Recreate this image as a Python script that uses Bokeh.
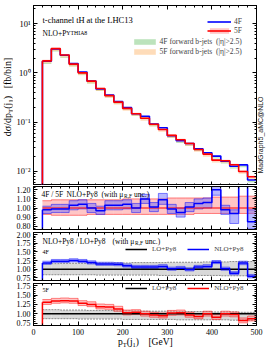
import math
from bokeh.plotting import figure
from bokeh.models import (Range1d, LinearAxis, LogAxis, SingleIntervalTicker, LogTicker,
                          CustomJSTickFormatter, Label, Legend, LegendItem, PrintfTickFormatter, Div)
from bokeh.layouts import column, row
from bokeh.embed import file_html
from bokeh.resources import INLINE

SERIF = "Liberation Serif"
SANS = "Liberation Sans"

# ---------------- data ----------------
bin_edges = [20, 40, 60, 80, 100, 120, 140, 160, 180, 200, 220, 240, 260,
             280, 300, 320, 340, 360, 380, 400, 420, 440, 460, 480, 500]

xs_4f = [1.72, 3.05, 2.28, 1.55, 1.04, 0.68, 0.47, 0.355, 0.262, 0.197, 0.148, 0.132,
         0.092, 0.077, 0.053, 0.042, 0.037, 0.029, 0.024, 0.0205, 0.0162, 0.0128, 0.0136, 0.0067]
xs_5f = [1.75, 3.10, 2.30, 1.50, 1.00, 0.68, 0.48, 0.345, 0.255, 0.190, 0.148, 0.120,
         0.091, 0.071, 0.054, 0.044, 0.037, 0.028, 0.0225, 0.0170, 0.0165, 0.0137, 0.0100, 0.0078]
xs_5f_lo = [1.66, 2.95, 2.19, 1.43, 0.95, 0.65, 0.46, 0.33, 0.243, 0.181, 0.141, 0.114,
            0.087, 0.068, 0.051, 0.042, 0.035, 0.0265, 0.0213, 0.0161, 0.0156, 0.0130, 0.0095, 0.0074]
xs_5f_hi = [1.84, 3.24, 2.40, 1.57, 1.05, 0.71, 0.50, 0.36, 0.266, 0.198, 0.155, 0.126,
            0.095, 0.074, 0.057, 0.046, 0.039, 0.0293, 0.0236, 0.0178, 0.0173, 0.0144, 0.0105, 0.0082]
fwd_4f_lo = [1.52, 2.70, 2.02, 1.36, 0.92, 0.61, 0.43, 0.32, 0.236, 0.178, 0.134, 0.118,
             0.083, 0.069, 0.048, 0.038, 0.033, 0.026, 0.0215, 0.0184, 0.0146, 0.0115, 0.0122, 0.0060]
fwd_4f_hi = [1.62, 2.88, 2.15, 1.45, 0.98, 0.65, 0.455, 0.34, 0.25, 0.189, 0.142, 0.126,
             0.088, 0.073, 0.051, 0.040, 0.035, 0.0276, 0.0228, 0.0195, 0.0154, 0.0122, 0.0129, 0.0064]
fwd_5f_lo = [1.56, 2.78, 2.05, 1.33, 0.89, 0.61, 0.43, 0.31, 0.229, 0.170, 0.133, 0.107,
             0.082, 0.064, 0.048, 0.039, 0.033, 0.025, 0.020, 0.0152, 0.0148, 0.0123, 0.0090, 0.0070]
fwd_5f_hi = [1.66, 2.95, 2.18, 1.42, 0.95, 0.65, 0.455, 0.328, 0.243, 0.181, 0.141, 0.114,
             0.087, 0.068, 0.051, 0.042, 0.035, 0.0265, 0.0213, 0.0161, 0.0156, 0.0130, 0.0095, 0.0074]

# ratio 4F/5F
r45 = [0.98, 0.99, 0.99, 1.03, 1.04, 1.00, 0.97, 1.03, 1.03, 1.04, 1.00, 1.10,
       1.01, 1.09, 0.99, 0.95, 1.01, 1.05, 1.06, 1.20, 0.98, 0.94, 1.36, 0.85]
r45_lo = [0.94, 0.95, 0.95, 0.98, 0.99, 0.95, 0.93, 0.98, 0.98, 0.99, 0.95, 1.05,
          0.96, 1.04, 0.94, 0.90, 0.96, 0.99, 1.00, 1.14, 0.93, 0.83, 1.30, 0.77]
r45_hi = [1.02, 1.04, 1.04, 1.08, 1.09, 1.05, 1.02, 1.08, 1.08, 1.09, 1.05, 1.15,
          1.06, 1.16, 1.04, 1.00, 1.06, 1.10, 1.11, 1.26, 1.03, 0.98, 1.42, 0.98]
r55 = [1.00] * 24
r55_lo = [0.93, 0.92, 0.92, 0.92, 0.92, 0.93, 0.93, 0.93, 0.93, 0.93, 0.93, 0.93,
          0.93, 0.93, 0.93, 0.93, 0.93, 0.94, 0.94, 0.94, 0.94, 0.94, 0.94, 0.94]
r55_hi = [1.08, 1.09, 1.09, 1.09, 1.09, 1.09, 1.09, 1.09, 1.09, 1.10, 1.10, 1.10,
          1.10, 1.10, 1.11, 1.11, 1.11, 1.11, 1.11, 1.12, 1.12, 1.12, 1.13, 1.13]

# 4F NLO/LO
k4 = [1.18, 1.23, 1.23, 1.25, 1.23, 1.19, 1.15, 1.15, 1.14, 1.10, 1.06, 1.06,
      1.06, 1.08, 1.01, 1.03, 0.99, 1.06, 1.08, 1.20, 1.01, 0.88, 1.18, 0.80]
k4_lo = [1.14, 1.19, 1.19, 1.21, 1.19, 1.15, 1.11, 1.11, 1.10, 1.06, 1.02, 1.02,
         1.02, 1.04, 0.97, 0.99, 0.95, 1.02, 1.04, 1.16, 0.97, 0.84, 1.13, 0.75]
k4_hi = [1.23, 1.28, 1.28, 1.30, 1.28, 1.24, 1.20, 1.20, 1.19, 1.15, 1.11, 1.11,
         1.11, 1.13, 1.06, 1.08, 1.04, 1.11, 1.13, 1.25, 1.06, 0.93, 1.23, 0.85]
lo4 = [1.00] * 24
lo4_lo = [0.84, 0.84, 0.84, 0.84, 0.84, 0.84, 0.83, 0.83, 0.83, 0.83, 0.83, 0.83,
          0.83, 0.82, 0.82, 0.82, 0.82, 0.82, 0.82, 0.82, 0.81, 0.81, 0.81, 0.81]
lo4_hi = [1.16, 1.16, 1.17, 1.17, 1.17, 1.17, 1.18, 1.18, 1.18, 1.18, 1.19, 1.19,
          1.19, 1.19, 1.20, 1.20, 1.20, 1.20, 1.21, 1.21, 1.21, 1.22, 1.22, 1.22]

# 5F NLO/LO
k5 = [1.31, 1.34, 1.35, 1.34, 1.28, 1.25, 1.19, 1.18, 1.13, 1.03, 1.04, 1.00,
      0.97, 0.95, 1.02, 1.03, 0.97, 0.93, 1.00, 0.91, 1.00, 0.98, 0.82, 0.87]
k5_lo = [1.25, 1.28, 1.29, 1.28, 1.22, 1.19, 1.13, 1.12, 1.07, 0.97, 0.98, 0.94,
         0.91, 0.89, 0.96, 0.97, 0.91, 0.87, 0.94, 0.85, 0.94, 0.92, 0.76, 0.81]
k5_hi = [1.38, 1.41, 1.42, 1.41, 1.35, 1.32, 1.26, 1.25, 1.20, 1.10, 1.11, 1.07,
         1.04, 1.02, 1.09, 1.10, 1.04, 1.00, 1.07, 0.98, 1.07, 1.05, 0.89, 0.94]
lo5 = [1.00] * 24
lo5_lo = [0.87, 0.87, 0.87, 0.87, 0.86, 0.86, 0.86, 0.86, 0.86, 0.85, 0.85, 0.85,
          0.85, 0.85, 0.85, 0.84, 0.84, 0.84, 0.84, 0.84, 0.84, 0.83, 0.83, 0.83]
lo5_hi = [1.11, 1.11, 1.10, 1.10, 1.10, 1.09, 1.09, 1.09, 1.08, 1.08, 1.08, 1.07,
          1.07, 1.07, 1.07, 1.06, 1.06, 1.06, 1.06, 1.05, 1.05, 1.05, 1.04, 1.04]

x_ticks_interval = 100

# ---------------- geometry helpers (text placement, page pixels) ----------------
FRAME_L, FRAME_R = 33, 256
MAIN_TOP, MAIN_BOT, MAIN_Y0, MAIN_Y1 = 5, 185, 0.0052, 23.2
P1_TOP, P1_BOT, P1_Y0, P1_Y1 = 186, 229, 0.764, 1.236
P2_TOP, P2_BOT, P2_Y0, P2_Y1 = 232, 280, 0.675, 2.055
P3_TOP, P3_BOT, P3_Y0, P3_Y1 = 283, 325, 0.689, 1.806


def gx(px):
    return (px - FRAME_L) * 500.0 / (FRAME_R - FRAME_L)


def gy_main(py):
    l0, l1 = math.log10(MAIN_Y0), math.log10(MAIN_Y1)
    return 10 ** (l1 - (py - MAIN_TOP) / (MAIN_BOT - MAIN_TOP) * (l1 - l0))


def gy_lin(py, top, bot, y0, y1):
    return y1 - (py - top) / (bot - top) * (y1 - y0)


BLANK = CustomJSTickFormatter(code="return '';")


def style_axis(ax, labels, size="8px"):
    ax.major_tick_in = 4
    ax.major_tick_out = 0
    ax.minor_tick_in = 2
    ax.minor_tick_out = 0
    ax.axis_line_color = "black"
    ax.major_tick_line_color = "black"
    ax.minor_tick_line_color = "black"
    ax.major_label_text_font = SERIF
    ax.major_label_text_color = "black"
    if labels:
        ax.major_label_text_font_size = size
        ax.major_label_standoff = 3
    else:
        ax.formatter = BLANK
        ax.major_label_text_font_size = "1px"
        ax.major_label_standoff = 0


def make_panel(width, height, y0, y1, log=False, bl=33, br=14, bt=1, bb=0,
               y_interval=0.1, xlabels=False):
    p = figure(width=width, height=height, x_range=Range1d(0, 500), y_range=Range1d(y0, y1),
               y_axis_type="log" if log else "linear", output_backend="svg",
               toolbar_location=None, min_border_left=bl, min_border_right=br,
               min_border_top=bt, min_border_bottom=bb, margin=0)
    p.grid.visible = False
    p.outline_line_color = "black"
    p.outline_line_width = 1
    xt = SingleIntervalTicker(interval=x_ticks_interval, num_minor_ticks=5)
    if log:
        yt = LogTicker(mantissas=[1], num_minor_ticks=10)
        fmt = CustomJSTickFormatter(code="""
            const e = Math.round(Math.log10(tick));
            const m = {"-": "\\u207b", "0": "\\u2070", "1": "\\u00b9", "2": "\\u00b2", "3": "\\u00b3"};
            let s = "";
            for (const c of String(e)) s += m[c];
            return "10" + s;""")
        right = LogAxis(ticker=yt)
    else:
        yt = SingleIntervalTicker(interval=y_interval, num_minor_ticks=5)
        fmt = PrintfTickFormatter(format="%.2f")
        right = LinearAxis(ticker=yt)
    p.yaxis.ticker = yt
    p.yaxis.formatter = fmt
    p.xaxis.ticker = xt
    style_axis(p.yaxis[0], True, "8.5px" if log else "8px")
    style_axis(p.xaxis[0], xlabels, "8px")
    style_axis(right, False)
    top = LinearAxis(ticker=xt)
    style_axis(top, False)
    p.add_layout(right, "right")
    p.add_layout(top, "above")
    return p


def step_line(p, vals, color, width=1.5, alpha=1.0, bottom=None, dash="solid"):
    ys = list(vals) + [vals[-1]]
    r = p.step(bin_edges, ys, mode="after", line_color=color, line_width=width,
               line_alpha=alpha, line_dash=dash)
    if bottom is not None:
        p.segment(x0=[bin_edges[0]], y0=[bottom], x1=[bin_edges[0]], y1=[vals[0]],
                  line_color=color, line_width=width, line_alpha=alpha)
    return r


def band(p, lo, hi, color, alpha, edge=None, edge_alpha=0.8, edge_dash="solid"):
    r = p.quad(left=bin_edges[:-1], right=bin_edges[1:], bottom=lo, top=hi,
               fill_color=color, fill_alpha=alpha, line_color=None)
    if edge is not None:
        step_line(p, lo, edge, 0.8, edge_alpha, dash=edge_dash)
        step_line(p, hi, edge, 0.8, edge_alpha, dash=edge_dash)
    return r


def txt(p, x, y, s, size, font=SERIF, align="left", baseline="alphabetic", angle=0, color="black"):
    p.add_layout(Label(x=x, y=y, text=s, text_font=font, text_font_size=f"{size}px",
                       text_align=align, text_baseline=baseline, angle=angle,
                       text_color=color))


def legend(items, left_px, bottom_px, frame_bot, gw, gh, lh, size, standoff, spacing,
           orientation="vertical"):
    lg = Legend(items=items, location=(left_px - FRAME_L, frame_bot - bottom_px),
                orientation=orientation,
                glyph_width=gw, glyph_height=gh, label_height=lh, label_width=1,
                label_standoff=standoff, spacing=spacing, padding=1, margin=0,
                label_text_font=SERIF, label_text_font_size=f"{size}px",
                background_fill_alpha=0, border_line_alpha=0)
    return lg


BLUE = "#0000ff"
RED = "#ff0000"

# ---------------- main panel ----------------
pm = make_panel(246, 185, MAIN_Y0, MAIN_Y1, log=True, bl=21, br=2, bt=5, bb=0)
rg = band(pm, fwd_4f_lo, fwd_4f_hi, "#8fd18f", 0.6)
ro = band(pm, fwd_5f_lo, fwd_5f_hi, "#fdc58a", 0.6)
rp = band(pm, xs_5f_lo, xs_5f_hi, "#ff8080", 0.45)
r4 = step_line(pm, xs_4f, BLUE, 1.6, bottom=MAIN_Y0)
r5 = step_line(pm, xs_5f, RED, 1.6, bottom=MAIN_Y0)

pm.add_layout(legend([LegendItem(label="4F", renderers=[r4]),
                      LegendItem(label="5F", renderers=[rp, r5])],
                     206, 35.5, MAIN_BOT, 24, 7, 9, 7.5, 3, 0))
pm.add_layout(legend([LegendItem(label="4F forward b-jets  (|\u03b7|>2.5)", renderers=[rg]),
                      LegendItem(label="5F forward b-jets  (|\u03b7|>2.5)", renderers=[ro])],
                     129.5, 57, MAIN_BOT, 27, 7, 7, 7.6, 2, 1))

txt(pm, gx(42), gy_main(19.3), "t-channel tH", 8.5)
txt(pm, gx(86), gy_main(19.3), "at the LHC13", 8.5)
txt(pm, gx(42), gy_main(32.5), "NLO+P", 7.5)
txt(pm, gx(65.8), gy_main(32.5), "YTHIA8", 5.8)

# outside-frame titles as HTML text
SUB = "font-size:7px;vertical-align:-2px;line-height:0"
div_y = Div(width=12, height=185, margin=0, styles={"overflow": "visible"},
            text=('<div style="position:relative;width:12px;height:185px;">'
                  '<div style="position:absolute;left:7px;top:97px;'
                  'transform:translate(-50%,-50%) rotate(-90deg);white-space:nowrap;'
                  "font-family:'Liberation Serif';font-size:10px;line-height:11px;color:#000;\">"
                  f'd&sigma;/dp<span style="{SUB}">T</span>(j<span style="{SUB}">1</span>)'
                  '&nbsp;&nbsp;&nbsp;[fb/bin]</div></div>'))
div_mg = Div(width=12, height=185, margin=0, styles={"overflow": "visible"},
             text=('<div style="position:relative;width:12px;height:185px;">'
                   '<div style="position:absolute;left:2.5px;top:135px;'
                   'transform:translate(-50%,-50%) rotate(-90deg);white-space:nowrap;'
                   "font-family:'Liberation Sans';font-size:7px;line-height:8px;color:#222;\">"
                   'MadGraph5_aMC@NLO</div></div>'))

# ---------------- ratio panel 1: 4F/5F ----------------
p1 = make_panel(270, 46, P1_Y0, P1_Y1, bt=1, bb=2, y_interval=0.1)
band(p1, r55_lo, r55_hi, "#ff8080", 0.45, edge=RED, edge_alpha=0.6)
band(p1, r45_lo, r45_hi, "#6060ff", 0.45, edge=BLUE, edge_alpha=0.6)
step_line(p1, r55, RED, 1.2)
step_line(p1, r45, BLUE, 1.5, bottom=P1_Y0)


def g1(py):
    return gy_lin(py, P1_TOP, P1_BOT, P1_Y0, P1_Y1)


txt(p1, gx(41), g1(194), "4F / 5F", 7.5)
txt(p1, gx(66), g1(194), "NLO+Py8", 7.5)
txt(p1, gx(101), g1(194), "(with \u03bc", 7.5)
txt(p1, gx(123.5), g1(195.5), "R,F", 5.5)
txt(p1, gx(133.5), g1(194), "unc.)", 7.5)

# ---------------- ratio panel 2: 4F NLO/LO ----------------
p2 = make_panel(270, 51, P2_Y0, P2_Y1, bt=1, bb=2, y_interval=0.25)
band(p2, lo4_lo, lo4_hi, "#d0d0d0", 0.8, edge="#555555", edge_alpha=0.8, edge_dash="2 1")
band(p2, k4_lo, k4_hi, "#6060ff", 0.45, edge=BLUE, edge_alpha=0.6)
rl4 = step_line(p2, lo4, "black", 1.5)
rk4 = step_line(p2, k4, BLUE, 1.5, bottom=P2_Y0)


def g2(py):
    return gy_lin(py, P2_TOP, P2_BOT, P2_Y0, P2_Y1)


txt(p2, gx(42), g2(240.5), "NLO+Py8 / LO+Py8", 7.5)
txt(p2, gx(112), g2(240.5), "(with \u03bc", 7.5)
txt(p2, gx(134.5), g2(242), "R,F", 5.5)
txt(p2, gx(144.5), g2(240.5), "unc.)", 7.5)
txt(p2, gx(42), g2(251), "4F", 6)
p2.add_layout(legend([LegendItem(label="LO+Py8", renderers=[rl4]),
                      LegendItem(label="NLO+Py8", renderers=[rk4])],
                     124, 253.6, P2_BOT, 22, 8, 8, 7, 5, 11, orientation="horizontal"))

# ---------------- ratio panel 3: 5F NLO/LO ----------------
p3 = make_panel(270, 57, P3_Y0, P3_Y1, bt=1, bb=14, y_interval=0.25, xlabels=True)
band(p3, lo5_lo, lo5_hi, "#d0d0d0", 0.8, edge="#555555", edge_alpha=0.8, edge_dash="2 1")
band(p3, k5_lo, k5_hi, "#ff8080", 0.45, edge=RED, edge_alpha=0.6)
rl5 = step_line(p3, lo5, "black", 1.5)
rk5 = step_line(p3, k5, RED, 1.5, bottom=P3_Y0)


def g3(py):
    return gy_lin(py, P3_TOP, P3_BOT, P3_Y0, P3_Y1)


txt(p3, gx(42), g3(289.5), "5F", 6)
p3.add_layout(legend([LegendItem(label="LO+Py8", renderers=[rl5]),
                      LegendItem(label="NLO+Py8", renderers=[rk5])],
                     124, 292.6, P3_BOT, 22, 8, 8, 7, 5, 11, orientation="horizontal"))

SUBX = "font-size:6.5px;vertical-align:-2px;line-height:0"
div_x = Div(width=270, height=12, margin=0, styles={"overflow": "visible"},
            text=('<div style="position:relative;width:270px;height:12px;">'
                  '<div style="position:absolute;left:118px;top:-2px;white-space:nowrap;'
                  "font-family:'Liberation Serif';font-size:9.5px;line-height:10px;color:#000;\">"
                  f'p<span style="{SUBX}">T</span>(j<span style="{SUBX}">1</span>)'
                  '&nbsp;&nbsp;&nbsp;&nbsp;[GeV]</div></div>'))

layout = column(row(div_y, pm, div_mg, spacing=0), p1, p2, p3, div_x, spacing=0)
open("out.html", "w").write(file_html(layout, INLINE))
